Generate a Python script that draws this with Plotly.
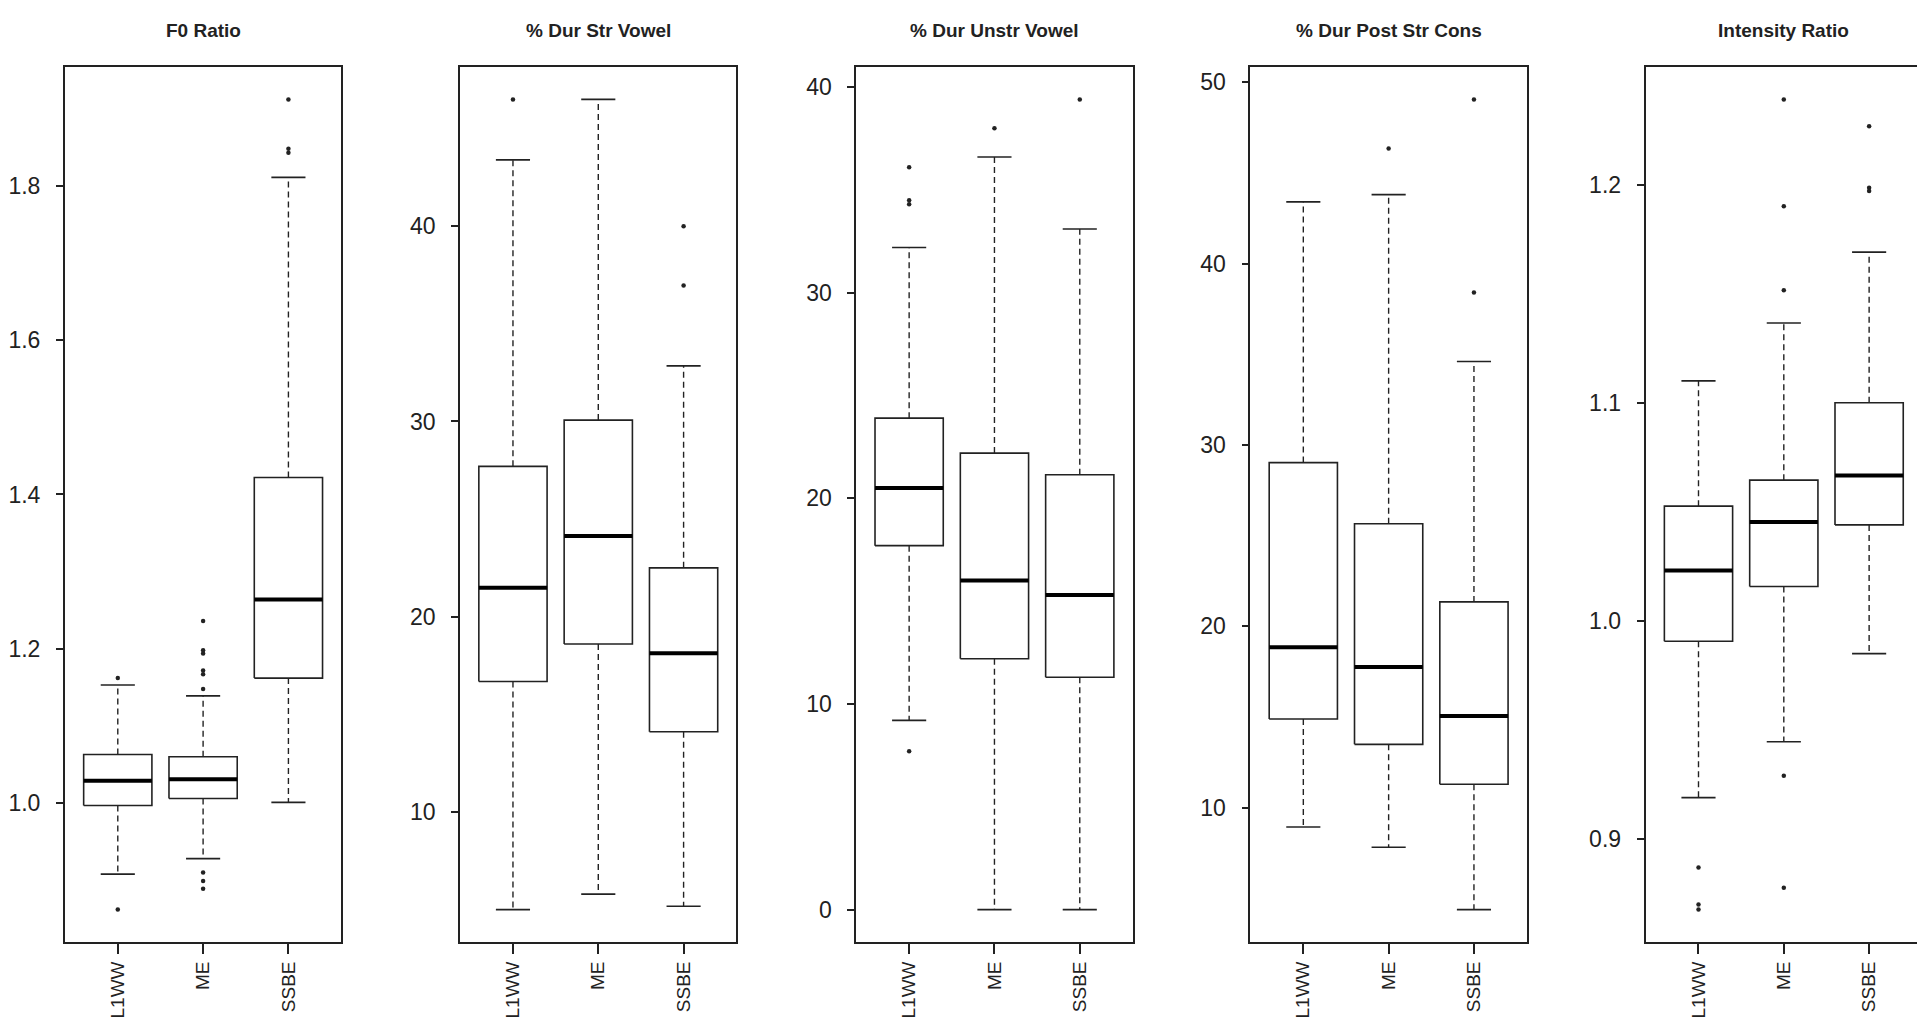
import plotly.graph_objects as go

groups = ["L1WW", "ME", "SSBE"]
titles = ["F0 Ratio", "% Dur Str Vowel", "% Dur Unstr Vowel", "% Dur Post Str Cons", "Intensity Ratio"]

# per panel, per group (L1WW, ME, SSBE)
lower_whisker = [
    [0.908, 0.928, 1.001],
    [4.99, 5.78, 5.16],
    [9.2, 0.0, 0.0],
    [8.94, 7.83, 4.39],
    [0.919, 0.9446, 0.985],
]
q1 = [
    [0.997, 1.006, 1.162],
    [16.68, 18.6, 14.1],
    [17.7, 12.2, 11.3],
    [14.9, 13.5, 11.3],
    [0.9907, 1.0158, 1.044],
]
median = [
    [1.029, 1.031, 1.264],
    [21.48, 24.13, 18.13],
    [20.5, 16.0, 15.3],
    [18.85, 17.76, 15.06],
    [1.0231, 1.0453, 1.0666],
]
q3 = [
    [1.063, 1.060, 1.422],
    [27.7, 30.07, 22.5],
    [23.9, 22.2, 21.15],
    [29.03, 25.66, 21.35],
    [1.0526, 1.0645, 1.100],
]
upper_whisker = [
    [1.153, 1.139, 1.811],
    [43.4, 46.5, 32.85],
    [32.2, 36.6, 33.1],
    [43.4, 43.8, 34.6],
    [1.110, 1.1365, 1.169],
]
outliers = [
    [[1.162, 0.862], [1.236, 1.198, 1.194, 1.172, 1.167, 1.148, 0.910, 0.899, 0.889], [1.912, 1.848, 1.843]],
    [[46.5], [], [40.0, 36.96]],
    [[36.1, 34.5, 34.3, 7.7], [38.0], [39.4]],
    [[], [46.35], [49.05, 38.4]],
    [[0.887, 0.870, 0.8677], [1.239, 1.190, 1.1515, 0.929, 0.8777], [1.2267, 1.1985, 1.197]],
]
y_ticks = [
    [1.0, 1.2, 1.4, 1.6, 1.8],
    [10, 20, 30, 40],
    [0, 10, 20, 30, 40],
    [10, 20, 30, 40, 50],
    [0.9, 1.0, 1.1, 1.2],
]
y_formats = [".1f", "d", "d", "d", ".1f"]

W, H = 1925, 1023
panel_left = [53, 449, 846, 1241, 1637]
panel_w = 277
frame_top, frame_bottom = 59, 934
ink = "#222222"
font = "Liberation Sans"

fig = go.Figure()
layout = {}
for i in range(len(titles)):
    s = "" if i == 0 else str(i + 1)
    xa, ya = "x" + s, "y" + s

    bx, by, wx, wy, cx, cy, mx, my, ox, oy = [], [], [], [], [], [], [], [], [], []
    for g in range(len(groups)):
        bx += [g - 0.4, g + 0.4, g + 0.4, g - 0.4, g - 0.4, None]
        by += [q1[i][g], q1[i][g], q3[i][g], q3[i][g], q1[i][g], None]
        wx += [g, g, None, g, g, None]
        wy += [q3[i][g], upper_whisker[i][g], None, q1[i][g], lower_whisker[i][g], None]
        cx += [g - 0.2, g + 0.2, None, g - 0.2, g + 0.2, None]
        cy += [upper_whisker[i][g]] * 2 + [None] + [lower_whisker[i][g]] * 2 + [None]
        mx += [g - 0.4, g + 0.4, None]
        my += [median[i][g], median[i][g], None]
        ox += [g] * len(outliers[i][g])
        oy += outliers[i][g]

    common = dict(xaxis=xa, yaxis=ya, showlegend=False, hoverinfo="skip")
    fig.add_trace(go.Scatter(x=wx, y=wy, mode="lines", line=dict(color=ink, width=1.4, dash="6px,4px"), **common))
    fig.add_trace(go.Scatter(x=cx, y=cy, mode="lines", line=dict(color=ink, width=1.6), **common))
    fig.add_trace(go.Scatter(x=bx, y=by, mode="lines", line=dict(color=ink, width=1.6), **common))
    fig.add_trace(go.Scatter(x=mx, y=my, mode="lines", line=dict(color="#000000", width=4), **common))
    fig.add_trace(go.Scatter(x=ox, y=oy, mode="markers", marker=dict(color=ink, size=4.5), **common))

    # R style range: data extent plus 4% each side
    vals = lower_whisker[i] + upper_whisker[i] + sum(outliers[i], [])
    lo, hi = min(vals), max(vals)
    pad = (hi - lo) * 0.04

    x0 = panel_left[i] / W
    x1 = (panel_left[i] + panel_w) / W
    y0 = (H - frame_bottom) / H
    y1 = (H - frame_top) / H
    layout["xaxis" + s] = dict(
        domain=[x0, x1], anchor=ya, range=[-0.62, 2.62],
        tickvals=[0, 1, 2], ticktext=groups, tickangle=-90,
        ticks="outside", ticklen=10, tickwidth=1.5, tickcolor=ink,
        ticklabelstandoff=0,
        showline=True, mirror=True, linecolor=ink, linewidth=1.8,
        showgrid=False, zeroline=False,
        tickfont=dict(family=font, size=19, color=ink),
    )
    layout["yaxis" + s] = dict(
        domain=[y0, y1], anchor=xa, range=[lo - pad, hi + pad],
        tickvals=y_ticks[i], tickformat=y_formats[i],
        ticks="outside", ticklen=7, tickwidth=1.5, tickcolor=ink,
        ticklabelstandoff=11,
        showline=True, mirror=True, linecolor=ink, linewidth=1.8,
        showgrid=False, zeroline=False,
        tickfont=dict(family=font, size=23, color=ink),
    )
    fig.add_annotation(
        text="<b>" + titles[i] + "</b>", xref="paper", yref="paper",
        x=(x0 + x1) / 2, y=(H - 23) / H, xanchor="center", yanchor="middle",
        showarrow=False, font=dict(family=font, size=19, color=ink),
    )

fig.update_layout(
    width=W, height=H, autosize=False,
    margin=dict(l=0, r=0, t=0, b=0),
    paper_bgcolor="white", plot_bgcolor="white",
    **layout,
)

fig.write_html("out.html")
